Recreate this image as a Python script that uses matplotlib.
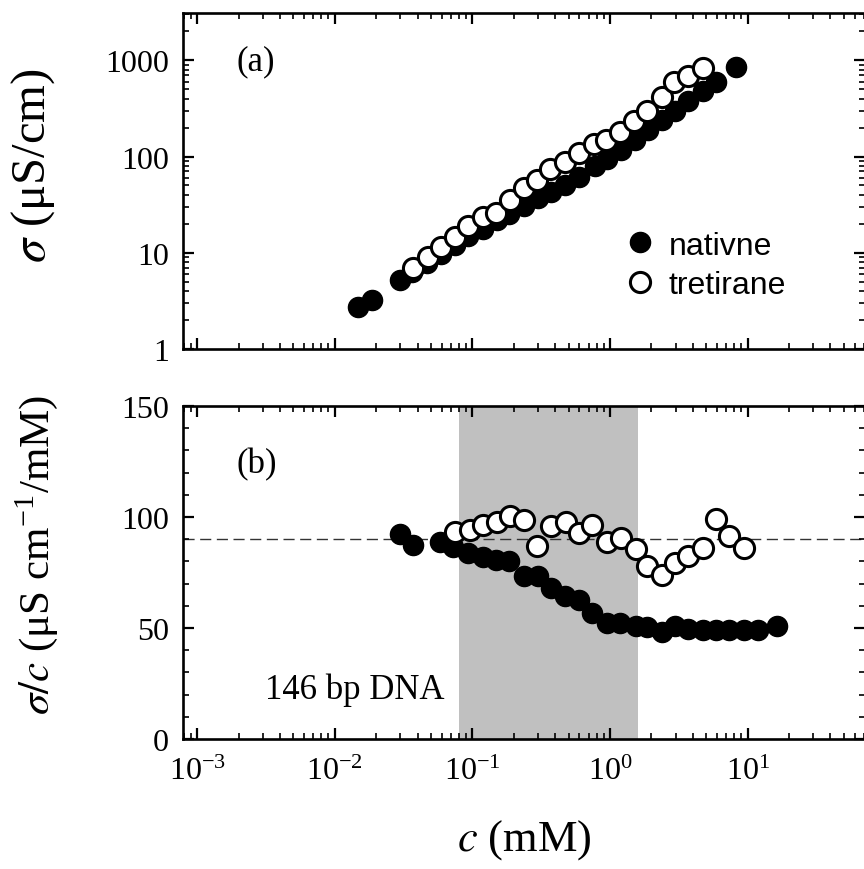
import matplotlib
matplotlib.use("Agg")
import matplotlib.pyplot as plt
from matplotlib.ticker import LogLocator, MultipleLocator, NullFormatter

# panel (a): conductivity vs concentration
c_nat_a = [0.0148, 0.0187, 0.0299, 0.0363, 0.0467, 0.0595, 0.0743, 0.0928, 0.119, 0.150,
           0.186, 0.237, 0.298, 0.372, 0.473, 0.595, 0.775, 0.95, 1.20, 1.52,
           1.88, 2.37, 2.97, 3.71, 4.73, 5.93, 8.3]
sigma_nat = [2.72, 3.24, 5.2, 6.3, 7.9, 9.8, 12.0, 15.0, 17.8, 22.0,
             25.5, 30.5, 37.5, 43.0, 50.0, 62.0, 79.0, 95.0, 116.0, 150.0,
             188.0, 240.0, 295.0, 375.0, 475.0, 588.0, 860.0]
c_tre_a = [0.0372, 0.0478, 0.0594, 0.0745, 0.0933, 0.120, 0.148, 0.187, 0.237, 0.296,
           0.368, 0.475, 0.596, 0.769, 0.94, 1.18, 1.49, 1.85, 2.37, 2.93,
           3.71, 4.72]
sigma_tre = [6.9, 9.0, 11.5, 14.5, 18.8, 23.5, 25.9, 35.0, 47.0, 57.0,
             73.5, 87.0, 109.0, 136.0, 147.0, 181.0, 235.0, 300.0, 415.0, 590.0,
             690.0, 840.0]

# panel (b): sigma / c vs concentration
c_nat_b = [0.0298, 0.0372, 0.0581, 0.0726, 0.0933, 0.119, 0.1485, 0.1855, 0.238, 0.301,
           0.371, 0.471, 0.596, 0.744, 0.946, 1.18, 1.545, 1.866, 2.375, 2.97,
           3.71, 4.77, 5.89, 7.36, 9.46, 11.97, 16.4]
ratio_nat = [92.3, 87.5, 88.9, 86.3, 83.8, 82.1, 80.6, 80.3, 73.6, 73.6,
             68.0, 64.3, 62.7, 56.8, 52.3, 52.3, 51.0, 50.3, 48.0, 50.8,
             49.5, 49.2, 49.2, 49.2, 49.2, 49.2, 51.0]
c_tre_b = [0.0748, 0.096, 0.120, 0.150, 0.1876, 0.238, 0.296, 0.371, 0.479, 0.596,
           0.745, 0.946, 1.196, 1.545, 1.866, 2.375, 2.97, 3.71, 4.77, 5.89,
           7.36, 9.46]
ratio_tre = [93.4, 94.3, 96.5, 97.9, 100.3, 98.8, 87.1, 96.1, 97.6, 92.8,
             96.5, 88.9, 90.5, 85.6, 78.1, 73.9, 79.3, 82.3, 86.0, 99.1,
             91.3, 86.0]

shade_range = (0.08, 1.6)
ref_level = 90
x_range = (7.9e-4, 71.3)
x_ticks = [1e-3, 1e-2, 1e-1, 1e0, 1e1]
x_ticklabels = [r'$\mathregular{10^{-3}}$', r'$\mathregular{10^{-2}}$',
                r'$\mathregular{10^{-1}}$', r'$\mathregular{10^{0}}$',
                r'$\mathregular{10^{1}}$']

plt.rcParams['font.family'] = ['Liberation Serif', 'DejaVu Serif']
plt.rcParams['mathtext.fontset'] = 'stix'

SANS = ['Liberation Sans', 'DejaVu Sans']
MS = 14.5


def style_axis(ax):
    for sp in ax.spines.values():
        sp.set_linewidth(1.9)
    ax.tick_params(which='both', direction='in', top=True, right=True, labelsize=23)
    ax.tick_params(which='major', length=8, width=1.6, pad=10)
    ax.tick_params(which='minor', length=4, width=1.2)
    ax.set_xscale('log')
    ax.set_xlim(*x_range)
    ax.xaxis.set_major_locator(LogLocator(base=10, numticks=20))
    ax.xaxis.set_minor_locator(LogLocator(base=10, subs=range(2, 10), numticks=20))
    ax.xaxis.set_minor_formatter(NullFormatter())


fig = plt.figure(figsize=(8.64, 8.70), dpi=100)
ax1 = fig.add_axes([183 / 864, 1 - 350 / 870, 682 / 864, 336 / 870])
ax2 = fig.add_axes([183 / 864, 1 - 740 / 870, 682 / 864, 333 / 870])

# (a)
style_axis(ax1)
ax1.plot(c_nat_a, sigma_nat, 'o', color='black', ms=MS, label='nativne', zorder=3)
ax1.plot(c_tre_a, sigma_tre, 'o', mfc='white', mec='black', mew=2.2, ms=MS,
         label='tretirane', zorder=4)
ax1.set_yscale('log')
ax1.set_ylim(1, 3100)
ax1.set_yticks([1, 10, 100, 1000])
ax1.set_yticklabels(['1', '10', '100', '1000'])
ax1.yaxis.set_minor_locator(LogLocator(base=10, subs=range(2, 10), numticks=20))
ax1.yaxis.set_minor_formatter(NullFormatter())
ax1.tick_params(axis='x', labelbottom=False)
ax1.set_ylabel(r'$\sigma$ (μS/cm)', fontsize=35)
ax1.yaxis.set_label_coords(-0.185, 0.55)
ax1.text(0.079, 0.857, '(a)', transform=ax1.transAxes, fontsize=25, va='center')
ax1.legend(loc='lower left', bbox_to_anchor=(0.60, 0.06), frameon=False,
           prop={'family': SANS, 'size': 23}, handletextpad=0.3,
           labelspacing=0.3, handlelength=1.2)

# (b)
style_axis(ax2)
ax2.axvspan(*shade_range, color='#c0c0c0', lw=0, zorder=0)
ax2.axhline(ref_level, color='#333333', lw=1.0, ls=(0, (8, 4)), zorder=1)
ax2.plot(c_nat_b, ratio_nat, 'o', color='black', ms=MS, zorder=3)
ax2.plot(c_tre_b, ratio_tre, 'o', mfc='white', mec='black', mew=2.2, ms=MS, zorder=4)
ax2.set_ylim(0, 150)
ax2.yaxis.set_major_locator(MultipleLocator(50))
ax2.yaxis.set_minor_locator(MultipleLocator(10))
ax2.set_xticks(x_ticks)
ax2.set_xticklabels(x_ticklabels)
ax2.set_xlim(*x_range)
ax2.tick_params(axis='x', which='major', pad=13)
ax2.set_ylabel(r'$\sigma/c$ (μS cm$^{\mathregular{-1}}$/mM)', fontsize=31)
ax2.yaxis.set_label_coords(-0.18, 0.555)
ax2.set_xlabel(r'$c$ (mM)', fontsize=32, labelpad=22)
ax2.text(0.12, 0.15, '146 bp DNA', transform=ax2.transAxes, fontsize=25, va='center')
ax2.text(0.079, 0.826, '(b)', transform=ax2.transAxes, fontsize=25, va='center')

fig.savefig('out.png', dpi=100)
